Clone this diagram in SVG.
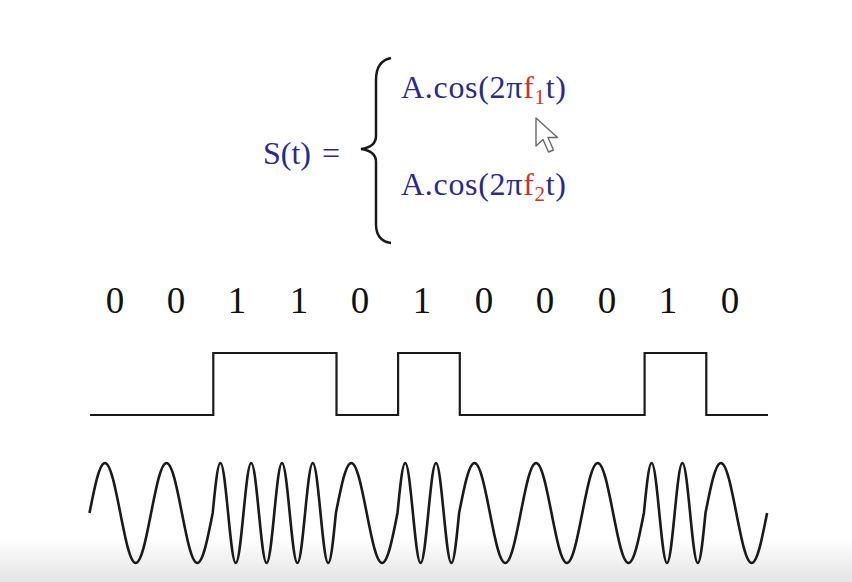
<svg xmlns="http://www.w3.org/2000/svg" width="852" height="582" viewBox="0 0 852 582">
<defs>
<linearGradient id="bg" x1="0" y1="0" x2="0" y2="1">
<stop offset="0" stop-color="#ffffff"/>
<stop offset="1" stop-color="#e4e4e4"/>
</linearGradient>
<style>
.f{font-family:"Liberation Serif","Times New Roman",serif;fill:#2c2a86;font-size:32px}
.r{fill:#c8352b}
.d{font-family:"Liberation Serif","Times New Roman",serif;font-size:37px;fill:#111;text-anchor:middle}
.ln{fill:none;stroke:#1a1a1a;stroke-linejoin:miter}
</style>
</defs>
<rect width="852" height="582" fill="#ffffff"/>
<rect x="0" y="538" width="852" height="44" fill="url(#bg)"/>
<g id="formula">
<text class="f" x="263" y="164">S(t)</text>
<text class="f" x="322" y="164">=</text>
<path class="ln" stroke-width="2.5" d="M391,58 Q376,61 376,80 L376,136 Q376,147 361,149 Q376,151 376,162 L376,224 Q376,241 391,243"/>
<text class="f" x="401" y="98" letter-spacing="0.7">A.cos(2π<tspan class="r">f</tspan><tspan class="r" font-size="21" dy="6">1</tspan><tspan dy="-6">t)</tspan></text>
<text class="f" x="401" y="195" letter-spacing="0.7">A.cos(2π<tspan class="r">f</tspan><tspan class="r" font-size="21" dy="6">2</tspan><tspan dy="-6">t)</tspan></text>
</g>
<g id="cursor">
<polygon points="536,118 536,146 543,139.5 548.5,152 553.5,150 548,137.5 557.5,137.5" fill="#ffffff" stroke="#6a6a6a" stroke-width="1.4" stroke-linejoin="round"/>
</g>
<g id="bits">
<text class="d" x="115" y="313">0</text>
<text class="d" x="176" y="313">0</text>
<text class="d" x="237" y="313">1</text>
<text class="d" x="299" y="313">1</text>
<text class="d" x="360" y="313">0</text>
<text class="d" x="422" y="313">1</text>
<text class="d" x="484" y="313">0</text>
<text class="d" x="545" y="313">0</text>
<text class="d" x="607" y="313">0</text>
<text class="d" x="668" y="313">1</text>
<text class="d" x="730" y="313">0</text>
</g>
<g id="square">
<path class="ln" stroke-width="2.2" d="M90,415 H213.3 V353 H336.5 V415 H398.1 V353 H459.8 V415 H644.6 V353 H706.3 V415 H768"/>
</g>
<g id="fsk">
<path class="ln" stroke-width="2.6" d="M89.5,513
c5.02,-25.62 9.83,-50 15.4,-50 c5.57,0 10.38,24.38 15.4,50 c5.02,25.62 9.83,50 15.4,50 c5.57,0 10.38,-24.38 15.4,-50
c5.02,-25.62 9.83,-50 15.4,-50 c5.57,0 10.38,24.38 15.4,50 c5.02,25.62 9.83,50 15.4,50 c5.57,0 10.38,-24.38 15.4,-50
c2.51,-25.62 4.91,-50 7.7,-50 c2.79,0 5.19,24.38 7.7,50 c2.51,25.62 4.91,50 7.7,50 c2.79,0 5.19,-24.38 7.7,-50
c2.51,-25.62 4.91,-50 7.7,-50 c2.79,0 5.19,24.38 7.7,50 c2.51,25.62 4.91,50 7.7,50 c2.79,0 5.19,-24.38 7.7,-50
c2.51,-25.62 4.91,-50 7.7,-50 c2.79,0 5.19,24.38 7.7,50 c2.51,25.62 4.91,50 7.7,50 c2.79,0 5.19,-24.38 7.7,-50
c2.51,-25.62 4.91,-50 7.7,-50 c2.79,0 5.19,24.38 7.7,50 c2.51,25.62 4.91,50 7.7,50 c2.79,0 5.19,-24.38 7.7,-50
c5.02,-25.62 9.83,-50 15.4,-50 c5.57,0 10.38,24.38 15.4,50 c5.02,25.62 9.83,50 15.4,50 c5.57,0 10.38,-24.38 15.4,-50
c2.51,-25.62 4.91,-50 7.7,-50 c2.79,0 5.19,24.38 7.7,50 c2.51,25.62 4.91,50 7.7,50 c2.79,0 5.19,-24.38 7.7,-50
c2.51,-25.62 4.91,-50 7.7,-50 c2.79,0 5.19,24.38 7.7,50 c2.51,25.62 4.91,50 7.7,50 c2.79,0 5.19,-24.38 7.7,-50
c5.02,-25.62 9.83,-50 15.4,-50 c5.57,0 10.38,24.38 15.4,50 c5.02,25.62 9.83,50 15.4,50 c5.57,0 10.38,-24.38 15.4,-50
c5.02,-25.62 9.83,-50 15.4,-50 c5.57,0 10.38,24.38 15.4,50 c5.02,25.62 9.83,50 15.4,50 c5.57,0 10.38,-24.38 15.4,-50
c5.02,-25.62 9.83,-50 15.4,-50 c5.57,0 10.38,24.38 15.4,50 c5.02,25.62 9.83,50 15.4,50 c5.57,0 10.38,-24.38 15.4,-50
c2.51,-25.62 4.91,-50 7.7,-50 c2.79,0 5.19,24.38 7.7,50 c2.51,25.62 4.91,50 7.7,50 c2.79,0 5.19,-24.38 7.7,-50
c2.51,-25.62 4.91,-50 7.7,-50 c2.79,0 5.19,24.38 7.7,50 c2.51,25.62 4.91,50 7.7,50 c2.79,0 5.19,-24.38 7.7,-50
c5.02,-25.62 9.83,-50 15.4,-50 c5.57,0 10.38,24.38 15.4,50 c5.02,25.62 9.83,50 15.4,50 c5.57,0 10.38,-24.38 15.4,-50"/>
</g>
</svg>
